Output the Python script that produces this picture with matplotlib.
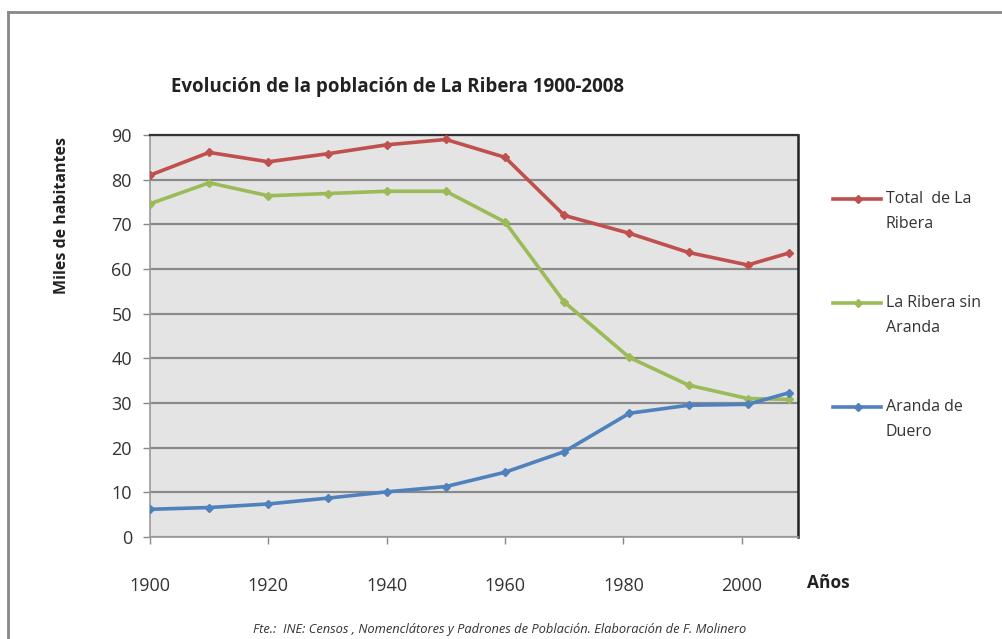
import matplotlib
matplotlib.use('Agg')
import matplotlib.pyplot as plt
from matplotlib.lines import Line2D

plt.rcParams['font.family'] = ['Open Sans', 'DejaVu Sans']

# Census years and population (thousands)
years = [1900, 1910, 1920, 1930, 1940, 1950, 1960, 1970, 1981, 1991, 2001, 2008]
total_ribera = [81.0, 86.1, 84.0, 85.8, 87.8, 89.0, 85.0, 72.0, 68.0, 63.7, 60.9, 63.6]
ribera_sin_aranda = [74.6, 79.3, 76.4, 76.9, 77.4, 77.4, 70.5, 52.6, 40.2, 34.0, 31.0, 30.8]
aranda_duero = [6.2, 6.6, 7.4, 8.7, 10.1, 11.3, 14.5, 19.1, 27.7, 29.5, 29.7, 32.3]

series_names = [['Total  de La', 'Ribera'], ['La Ribera sin', 'Aranda'], ['Aranda de', 'Duero']]
colors = ['#C0504D', '#9BBB59', '#4F81BD']
x_ticks = [1900, 1920, 1940, 1960, 1980, 2000]
y_ticks = list(range(0, 91, 10))

fig = plt.figure(figsize=(10.03, 6.39), dpi=100, facecolor='white')
ax = fig.add_axes([150 / 1003, 1 - 537 / 639, 648 / 1003, 402 / 639])
ax.set_facecolor('#E4E4E4')

for vals, c in zip([total_ribera, ribera_sin_aranda, aranda_duero], colors):
    ax.plot(years, vals, color=c, lw=2.6, marker='D', markersize=4.5,
            markeredgecolor=c, zorder=3)

ax.set_xlim(1900, 2009.5)
ax.set_ylim(0, 90)
ax.set_xticks(x_ticks)
ax.set_yticks(y_ticks)
ax.tick_params(axis='both', direction='out', length=5, width=1, color='#888888',
               labelsize=13, labelcolor='#333333')
ax.tick_params(axis='x', pad=24)
ax.tick_params(axis='y', pad=8)
ax.grid(axis='y', color='#8A8A8A', lw=1.6)
ax.set_axisbelow(True)
for side in ['left', 'bottom']:
    ax.spines[side].set_color('#999999')
    ax.spines[side].set_linewidth(1.2)
ax.spines['top'].set_color('#333333')
ax.spines['top'].set_linewidth(1.6)
ax.spines['right'].set_color('#222222')
ax.spines['right'].set_linewidth(1.8)

fig.text(398 / 1003, 1 - 87 / 639, 'Evolución de la población de La Ribera 1900-2008',
         ha='center', va='center', fontsize=13.5, fontweight='bold', color='#222222')
fig.text(62 / 1003, 1 - 215 / 639, 'Miles de habitantes', rotation=90,
         ha='center', va='center', fontsize=11.5, fontweight='bold', color='#222222')
fig.text(828 / 1003, 1 - 583 / 639, 'Años', ha='center', va='center',
         fontsize=12.5, fontweight='bold', color='#222222')
fig.text(500 / 1003, 1 - 630 / 639,
         'Fte.:  INE: Censos , Nomenclátores y Padrones de Población. Elaboración de F. Molinero',
         ha='center', va='center', fontsize=9.3, style='italic', color='#333333')

# legend drawn by hand to match the Excel layout
leg_y = [199, 303, 407]
for lines, c, yy in zip(series_names, colors, leg_y):
    yf = 1 - yy / 639
    fig.add_artist(Line2D([833 / 1003, 881 / 1003], [yf, yf], color=c, lw=2.6,
                          transform=fig.transFigure))
    fig.add_artist(Line2D([858 / 1003], [yf], color=c, marker='D', markersize=4.5,
                          transform=fig.transFigure))
    for k, txt in enumerate(lines):
        fig.text(886 / 1003, 1 - (yy + 25 * k) / 639, txt, ha='left', va='center',
                 fontsize=11.5, color='#333333')

# outer frame (left and top edges)
fig.add_artist(Line2D([8 / 1003, 8 / 1003], [0, 1 - 12 / 639], color='#888888', lw=2,
                      transform=fig.transFigure))
fig.add_artist(Line2D([8 / 1003, 1], [1 - 12 / 639, 1 - 12 / 639], color='#888888', lw=2,
                      transform=fig.transFigure))

fig.savefig('out.png', dpi=100, facecolor='white')
